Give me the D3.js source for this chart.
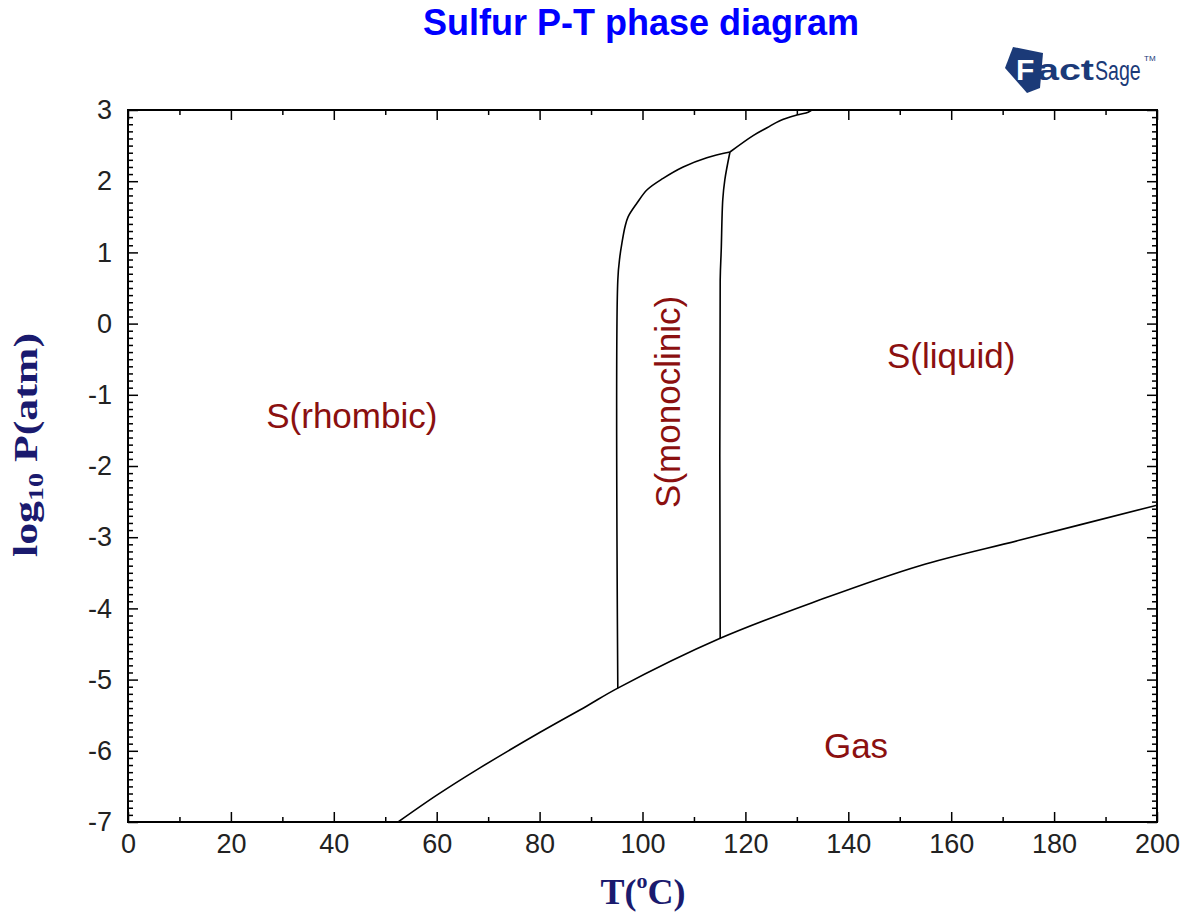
<!DOCTYPE html>
<html>
<head>
<meta charset="utf-8">
<script src="https://cdn.jsdelivr.net/npm/d3@7"></script>
<style>
  body { margin: 0; background: #fff; }
  svg { display: block; }
</style>
</head>
<body>
<script>
// phase boundaries (T in degC, log10 P in atm)
var gasT = [52.5, 60.1, 68.4, 80.1, 89.2, 95.2, 115.1, 134.5, 153.9, 173.4, 200]
var gasP = [-7.0, -6.62, -6.24, -5.74, -5.37, -5.12, -4.42, -3.88, -3.40, -3.04, -2.55]

var rhMonoT = [95.2, 95.2, 95.6, 96.0, 96.6, 97.2, 98.9, 100.9, 104.0, 107.9, 112.5, 117.0]
var rhMonoP = [-5.12, 0.61, 0.94, 1.13, 1.36, 1.50, 1.69, 1.88, 2.04, 2.20, 2.33, 2.41]

var monoLiqT = [115.1, 115.1, 115.3, 115.6, 116.0, 117.0]
var monoLiqP = [-4.42, 0.61, 1.03, 1.74, 2.02, 2.41]

var rhLiqT = [117.0, 121.5, 124.2, 126.7, 130.0, 132.2, 132.9]
var rhLiqP = [2.41, 2.64, 2.75, 2.85, 2.93, 2.97, 3.0]

var xMajor = [0, 20, 40, 60, 80, 100, 120, 140, 160, 180, 200]
var yMajor = [3, 2, 1, 0, -1, -2, -3, -4, -5, -6, -7]

var regions = ["S(rhombic)", "S(monoclinic)", "S(liquid)", "Gas"]
var regionT = [43.5, 105, 160, 141.5]
var regionP = [-1.3, -1.1, -0.45, -5.93]

var W = 1187, H = 912
var margin = {left: 128, right: 30, top: 110, bottom: 90}

var svg = d3.select("body")
  .append("svg")
  .attr("width", W)
  .attr("height", H)

var x = d3.scaleLinear().domain([0, 200]).range([margin.left, W - margin.right])
var y = d3.scaleLinear().domain([-7, 3]).range([H - margin.bottom, margin.top])

var xMinor = d3.range(10, 200, 20)
var yMinor = d3.range(-70, 31).map(function(d) { return d / 10 })
  .filter(function(d) { return Math.abs(d - Math.round(d)) > 1e-9 })

function styleAxis(g) {
  g.select(".domain").remove()
  g.selectAll("line").attr("stroke", "#000").attr("stroke-width", 1.5)
  g.selectAll("text")
    .attr("font-family", "Liberation Sans, Arial, sans-serif")
    .attr("font-size", "27px")
    .attr("fill", "#222")
}

var plotB = H - margin.bottom, plotL = margin.left
var plotR = W - margin.right, plotT = margin.top

// bottom axis
svg.append("g").attr("transform", "translate(0," + plotB + ")")
  .call(d3.axisBottom(x).tickValues(xMajor).tickSize(-10).tickSizeOuter(0).tickPadding(12))
  .call(styleAxis)
svg.append("g").attr("transform", "translate(0," + plotB + ")")
  .call(d3.axisBottom(x).tickValues(xMinor).tickSize(-5).tickFormat(""))
  .call(styleAxis)
// top axis
svg.append("g").attr("transform", "translate(0," + plotT + ")")
  .call(d3.axisTop(x).tickValues(xMajor).tickSize(-10).tickFormat(""))
  .call(styleAxis)
svg.append("g").attr("transform", "translate(0," + plotT + ")")
  .call(d3.axisTop(x).tickValues(xMinor).tickSize(-5).tickFormat(""))
  .call(styleAxis)
// left axis
svg.append("g").attr("transform", "translate(" + plotL + ",0)")
  .call(d3.axisLeft(y).tickValues(yMajor).tickSize(-10).tickPadding(16).tickFormat(d3.format("d")))
  .call(styleAxis)
svg.append("g").attr("transform", "translate(" + plotL + ",0)")
  .call(d3.axisLeft(y).tickValues(yMinor).tickSize(-5).tickFormat(""))
  .call(styleAxis)
// right axis
svg.append("g").attr("transform", "translate(" + plotR + ",0)")
  .call(d3.axisRight(y).tickValues(yMajor).tickSize(-10).tickFormat(""))
  .call(styleAxis)
svg.append("g").attr("transform", "translate(" + plotR + ",0)")
  .call(d3.axisRight(y).tickValues(yMinor).tickSize(-5).tickFormat(""))
  .call(styleAxis)

// minus signs: plain hyphen like the original
svg.selectAll("text").each(function() {
  var t = d3.select(this)
  t.text(t.text().replace("\u2212", "-"))
})

svg.append("rect")
  .attr("x", plotL).attr("y", plotT)
  .attr("width", plotR - plotL).attr("height", plotB - plotT)
  .attr("fill", "none").attr("stroke", "#000").attr("stroke-width", 2)

svg.append("clipPath").attr("id", "clip")
  .append("rect")
  .attr("x", plotL).attr("y", plotT)
  .attr("width", plotR - plotL).attr("height", plotB - plotT)

var line = d3.line()
  .x(function(d) { return x(d[0]) })
  .y(function(d) { return y(d[1]) })
  .curve(d3.curveCatmullRom.alpha(0.5))

var curves = [
  d3.zip(gasT, gasP),
  d3.zip(rhMonoT, rhMonoP),
  d3.zip(monoLiqT, monoLiqP),
  d3.zip(rhLiqT, rhLiqP)
]

svg.append("g").attr("clip-path", "url(#clip)")
  .selectAll("path")
  .data(curves).enter()
  .append("path")
  .attr("d", function(d) { return line(d) })
  .attr("fill", "none")
  .attr("stroke", "#000")
  .attr("stroke-width", 1.6)

// region labels
svg.selectAll(".region")
  .data(regions).enter()
  .append("text")
  .attr("class", "region")
  .attr("transform", function(d, i) {
    var px = x(regionT[i]), py = y(regionP[i])
    return "translate(" + px + "," + py + ")" + (i == 1 ? " rotate(-90)" : "")
  })
  .attr("text-anchor", "middle")
  .attr("dy", "0.35em")
  .attr("font-family", "Liberation Sans, Arial, sans-serif")
  .attr("font-size", "35px")
  .attr("fill", "#8b1010")
  .text(function(d) { return d })

// title
svg.append("text")
  .attr("x", 641).attr("y", 35)
  .attr("text-anchor", "middle")
  .attr("font-family", "Liberation Sans, Arial, sans-serif")
  .attr("font-weight", "bold")
  .attr("font-size", "36px")
  .attr("fill", "#0000ff")
  .text("Sulfur P-T phase diagram")

// axis titles
var xt = svg.append("text")
  .attr("x", 643).attr("y", 904)
  .attr("text-anchor", "middle")
  .attr("font-family", "Liberation Serif, Times New Roman, serif")
  .attr("font-weight", "bold")
  .attr("font-size", "36px")
  .attr("fill", "#1a1a6e")
xt.append("tspan").text("T(")
xt.append("tspan").attr("font-size", "22px").attr("dy", "-16").text("o")
xt.append("tspan").attr("dy", "16").text("C)")

var yt = svg.append("text")
  .attr("transform", "translate(37,445) rotate(-90) scale(1.33,1)")
  .attr("text-anchor", "middle")
  .attr("font-family", "Liberation Serif, Times New Roman, serif")
  .attr("font-weight", "bold")
  .attr("font-size", "33px")
  .attr("fill", "#1a1a6e")
yt.append("tspan").text("log")
yt.append("tspan").attr("font-size", "21px").attr("dy", "6").text("10")
yt.append("tspan").attr("dy", "-6").text(" P(atm)")

// FactSage logo
var navy = "#1b3a78"
var logo = svg.append("g").attr("transform", "translate(1000,44)")
logo.append("path")
  .attr("d", "M13,3 L43,9 L40,44 L27,49 L5,24 Z")
  .attr("fill", navy)
logo.append("text")
  .attr("x", 16).attr("y", 36)
  .attr("font-family", "Liberation Sans, Arial, sans-serif")
  .attr("font-weight", "bold")
  .attr("font-size", "30px")
  .attr("fill", "#fff")
  .text("F")
logo.append("text")
  .attr("x", 37).attr("y", 36)
  .attr("font-family", "Liberation Sans, Arial, sans-serif")
  .attr("font-weight", "bold")
  .attr("font-size", "30px")
  .attr("fill", navy)
  .attr("textLength", 57)
  .attr("lengthAdjust", "spacingAndGlyphs")
  .text("act")
logo.append("text")
  .attr("transform", "translate(95,36) scale(0.7,1)")
  .attr("font-family", "Liberation Sans, Arial, sans-serif")
  .attr("font-size", "28px")
  .attr("fill", navy)
  .text("Sage")
logo.append("text")
  .attr("x", 144).attr("y", 17)
  .attr("font-family", "Liberation Sans, Arial, sans-serif")
  .attr("font-size", "8px")
  .attr("fill", navy)
  .text("TM")
</script>
</body>
</html>
